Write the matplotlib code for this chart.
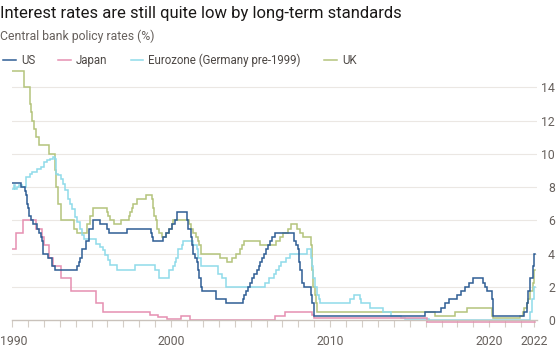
import numpy as np
import matplotlib
matplotlib.use("Agg")
from matplotlib import pyplot as plt
from matplotlib.ticker import FixedLocator
from matplotlib.transforms import ScaledTranslation

# policy rates (decimal year, % - upper bound for the US)
us_dates = [1990.0, 1990.55, 1990.8, 1990.87, 1990.93, 1990.97, 1991.02, 1991.08, 1991.18, 1991.33,
            1991.6, 1991.7, 1991.83, 1991.87, 1991.93, 1991.97, 1992.27, 1992.5, 1992.68, 1994.1,
            1994.23, 1994.3, 1994.38, 1994.63, 1994.87, 1995.08, 1995.52, 1995.97, 1996.08, 1997.23,
            1998.75, 1998.8, 1998.88, 1999.5, 1999.65, 1999.88, 2000.08, 2000.22, 2000.38, 2001.01,
            2001.08, 2001.22, 2001.3, 2001.38, 2001.48, 2001.63, 2001.72, 2001.78, 2001.85, 2001.95,
            2002.85, 2003.48, 2004.5, 2004.6, 2004.72, 2004.85, 2004.95, 2005.08, 2005.23, 2005.37,
            2005.5, 2005.6, 2005.72, 2005.85, 2005.95, 2006.08, 2006.23, 2006.37, 2006.5, 2007.72,
            2007.83, 2007.95, 2008.06, 2008.08, 2008.22, 2008.33, 2008.77, 2008.83, 2008.96, 2015.96,
            2016.96, 2017.2, 2017.46, 2017.96, 2018.22, 2018.46, 2018.73, 2018.96, 2019.58, 2019.72,
            2019.83, 2020.17, 2020.21, 2022.21, 2022.34, 2022.46, 2022.57, 2022.72, 2022.84, 2022.87]
us_rates = [8.25, 8.0, 7.75, 7.5, 7.25, 7.0, 6.75, 6.25, 6.0, 5.75,
            5.5, 5.25, 5.0, 4.75, 4.5, 4.0, 3.75, 3.25, 3.0, 3.25,
            3.5, 3.75, 4.25, 4.75, 5.5, 6.0, 5.75, 5.5, 5.25, 5.5,
            5.25, 5.0, 4.75, 5.0, 5.25, 5.5, 5.75, 6.0, 6.5, 6.0,
            5.5, 5.0, 4.5, 4.0, 3.75, 3.5, 3.0, 2.5, 2.0, 1.75,
            1.25, 1.0, 1.25, 1.5, 1.75, 2.0, 2.25, 2.5, 2.75, 3.0,
            3.25, 3.5, 3.75, 4.0, 4.25, 4.5, 4.75, 5.0, 5.25, 4.75,
            4.5, 4.25, 3.5, 3.0, 2.25, 2.0, 1.5, 1.0, 0.25, 0.5,
            0.75, 1.0, 1.25, 1.5, 1.75, 2.0, 2.25, 2.5, 2.25, 2.0,
            1.75, 1.25, 0.25, 0.5, 1.0, 1.75, 2.5, 3.25, 4.0, 4.0]

japan_dates = [1990.0, 1990.22, 1990.66, 1991.5, 1991.87, 1991.99, 1992.3, 1992.57, 1993.1, 1993.72,
               1995.29, 1995.69, 1998.7, 1999.2, 1999.72, 2000.62, 2001.2, 2006.54, 2007.14, 2008.83,
               2008.97, 2016.08, 2022.87]
japan_rates = [4.25, 5.25, 6.0, 5.5, 5.0, 4.5, 3.75, 3.25, 2.5, 1.75,
               1.0, 0.5, 0.3, 0.2, 0.05, 0.25, 0.03, 0.25, 0.5, 0.3,
               0.1, -0.1, -0.1]

euro_dates = [1990.0, 1990.1, 1990.2, 1990.3, 1990.45, 1990.6, 1990.88, 1991.0, 1991.1, 1991.25,
              1991.55, 1991.85, 1992.0, 1992.2, 1992.4, 1992.55, 1992.7, 1992.75, 1992.9, 1993.05,
              1993.2, 1993.35, 1993.5, 1993.65, 1993.8, 1993.95, 1994.1, 1994.25, 1994.4, 1994.55,
              1995.25, 1995.5, 1995.7, 1995.85, 1996.05, 1996.15, 1996.6, 1997.75, 1999.0, 1999.27,
              1999.85, 2000.1, 2000.22, 2000.32, 2000.45, 2000.68, 2000.77, 2001.37, 2001.6, 2001.72,
              2001.85, 2002.92, 2003.18, 2003.43, 2005.92, 2006.17, 2006.45, 2006.6, 2006.77, 2006.93,
              2007.2, 2007.45, 2008.52, 2008.77, 2008.85, 2008.93, 2009.05, 2009.2, 2009.28, 2009.35,
              2011.27, 2011.52, 2011.85, 2011.95, 2012.52, 2013.35, 2013.85, 2014.43, 2014.68, 2016.2,
              2022.55, 2022.7, 2022.84, 2022.87]
euro_rates = [7.9, 8.1, 7.9, 8.0, 8.1, 8.0, 8.6, 8.6, 8.8, 8.9,
              9.1, 9.2, 9.5, 9.6, 9.7, 9.8, 9.7, 8.8, 8.7, 8.5,
              8.2, 7.8, 7.3, 7.0, 6.7, 6.2, 5.9, 5.5, 5.1, 4.85,
              4.6, 4.4, 4.2, 3.9, 3.6, 3.3, 3.0, 3.3, 3.0, 2.5,
              3.0, 3.25, 3.5, 3.75, 4.25, 4.5, 4.75, 4.5, 4.25, 3.75,
              3.25, 2.75, 2.5, 2.0, 2.25, 2.5, 2.75, 3.0, 3.25, 3.5,
              3.75, 4.0, 4.25, 3.75, 3.25, 2.5, 2.0, 1.5, 1.25, 1.0,
              1.25, 1.5, 1.25, 1.0, 0.75, 0.5, 0.25, 0.15, 0.05, 0.0,
              0.5, 1.25, 2.0, 2.0]

uk_dates = [1990.0, 1990.77, 1991.12, 1991.16, 1991.22, 1991.28, 1991.4, 1991.53, 1991.68, 1992.35,
            1992.72, 1992.79, 1992.87, 1993.07, 1993.9, 1994.1, 1994.7, 1994.93, 1995.09, 1995.95,
            1996.05, 1996.19, 1996.43, 1996.83, 1997.35, 1997.43, 1997.53, 1997.6, 1997.85, 1998.42,
            1998.77, 1998.85, 1998.94, 1999.02, 1999.1, 1999.27, 1999.44, 1999.69, 1999.85, 2000.03,
            2000.11, 2001.11, 2001.26, 2001.36, 2001.59, 2001.71, 2001.76, 2001.86, 2003.1, 2003.52,
            2003.85, 2004.1, 2004.35, 2004.44, 2004.6, 2005.59, 2006.59, 2006.86, 2007.03, 2007.36,
            2007.51, 2007.93, 2008.1, 2008.27, 2008.77, 2008.85, 2008.93, 2009.02, 2009.1, 2009.18,
            2016.59, 2017.84, 2018.59, 2020.19, 2020.21, 2021.96, 2022.09, 2022.21, 2022.34, 2022.46,
            2022.59, 2022.72, 2022.84, 2022.87]
uk_rates = [15.0, 14.0, 13.5, 13.0, 12.5, 12.0, 11.5, 11.0, 10.5, 10.0,
            9.0, 8.0, 7.0, 6.0, 5.5, 5.25, 5.75, 6.25, 6.75, 6.5,
            6.25, 6.0, 5.75, 6.0, 6.25, 6.5, 6.75, 7.0, 7.25, 7.5,
            7.25, 6.75, 6.25, 6.0, 5.5, 5.25, 5.0, 5.25, 5.5, 5.75,
            6.0, 5.75, 5.5, 5.25, 5.0, 4.75, 4.5, 4.0, 3.75, 3.5,
            3.75, 4.0, 4.25, 4.5, 4.75, 4.5, 4.75, 5.0, 5.25, 5.5,
            5.75, 5.5, 5.25, 5.0, 4.5, 3.0, 2.0, 1.5, 1.0, 0.5,
            0.25, 0.5, 0.75, 0.25, 0.1, 0.25, 0.5, 0.75, 1.0, 1.25,
            1.75, 2.25, 3.0, 3.0]

series = [
    ("US", us_dates, us_rates, "#2f5e95"),
    ("Japan", japan_dates, japan_rates, "#e68fb1"),
    ("Eurozone (Germany pre-1999)", euro_dates, euro_rates, "#8fdbea"),
    ("UK", uk_dates, uk_rates, "#b4c47c"),
]

y_ticks = [0, 2, 4, 6, 8, 10, 12, 14]
x_ticks = [1990, 2000, 2010, 2020, 2022.82]
x_labels = ["1990", "2000", "2010", "2020", "2022"]

plt.rcParams["font.family"] = ["Roboto", "DejaVu Sans"]
grey = "#66605c"

W, H = 557, 355
fig = plt.figure(figsize=(W / 100, H / 100), dpi=100)
ax = fig.add_axes([12 / W, 1 - 325 / H, (537 - 12) / W, (325 - 69) / H])

# draw back to front so the US sits on top
for name, d, r, c in series[::-1]:
    ax.step(d, r, where="post", color=c, lw=1.1, label=name, solid_joinstyle="miter")

ax.set_xlim(1990, 2023.0)
ax.set_ylim(-0.3, 15.1)

for s in ["top", "left", "right"]:
    ax.spines[s].set_visible(False)
ax.spines["bottom"].set_position(("data", 0))
ax.spines["bottom"].set_color("#c9c2bb")
ax.spines["bottom"].set_linewidth(1.0)

ax.yaxis.tick_right()
ax.set_yticks(y_ticks)
ax.tick_params(axis="y", length=0, pad=13, labelsize=8.8, labelcolor=grey)
for lab in ax.get_yticklabels():
    lab.set_horizontalalignment("right")
for y in y_ticks[1:]:
    ax.axhline(y, color="#ebe7e3", lw=0.8, zorder=0)

ax.xaxis.set_major_locator(FixedLocator(x_ticks))
ax.set_xticklabels(x_labels)
ax.xaxis.set_minor_locator(FixedLocator(np.arange(1991, 2023)))
ax.tick_params(axis="x", which="both", length=5, width=0.8, color="#d4cdc6",
               labelsize=8.8, labelcolor=grey, pad=6)
# nudge the first year label so it isn't clipped by the left edge
first = ax.get_xticklabels()[0]
first.set_transform(first.get_transform() + ScaledTranslation(2 / 100, 0, fig.dpi_scale_trans))

fig.text(0, 1 - 18 / H, "Interest rates are still quite low by long-term standards",
         fontsize=12, color="#1a1817", va="baseline", ha="left")
fig.text(0, 1 - 40 / H, "Central bank policy rates (%)",
         fontsize=8.8, color=grey, va="baseline", ha="left")

handles, labels = ax.get_legend_handles_labels()
fig.legend(handles[::-1], labels[::-1], loc="center left", bbox_to_anchor=(3 / W, 1 - 60 / H),
           ncol=4, frameon=False, fontsize=8.3, handlelength=1.1, handletextpad=0.45,
           columnspacing=2.0, borderpad=0, borderaxespad=0, labelcolor="#4d4845")

fig.savefig("out.png", dpi=100)
